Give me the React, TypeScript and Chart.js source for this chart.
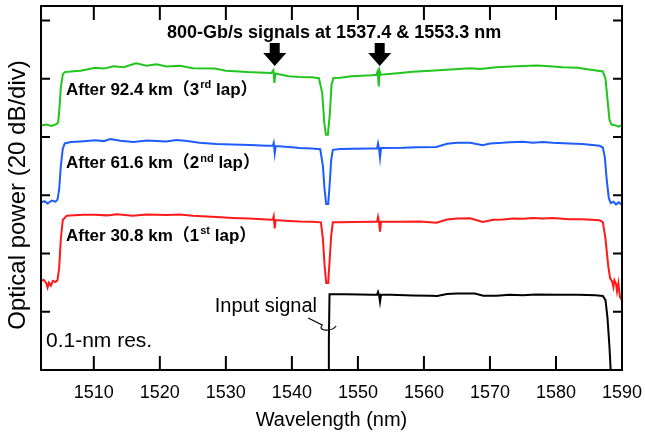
import { useEffect, useRef } from "react";
import { Chart, registerables } from "chart.js";

Chart.register(...registerables);

// ---------- data (wavelength in nm, power in dB, 20 dB per division) ----------
const WL_MIN = 1502;
const WL_MAX = 1590;
const P_MIN = 0;
const P_MAX = 125;
const P_STEP = 20;
const wlTicks = [1510, 1520, 1530, 1540, 1550, 1560, 1570, 1580, 1590];

const lap3Wl = [1502.0,1502.8,1503.6,1504.3,1504.6,1504.8,1505.0,1505.3,1505.6,1506.5,1508.0,1510.2,1511.5,1513.0,1514.5,1516.4,1518.0,1519.5,1521.0,1523.0,1525.0,1528.3,1530.0,1533.3,1535.0,1536.9,1537.2,1537.35,1537.5,1539.5,1541.2,1543.0,1544.1,1544.6,1544.9,1545.15,1545.45,1545.75,1546.0,1546.3,1547.3,1549.0,1552.1,1552.8,1553.0,1553.15,1553.3,1553.45,1556.4,1558.3,1561.0,1564.7,1567.0,1568.5,1571.0,1574.0,1577.1,1579.0,1581.0,1583.3,1585.0,1587.1,1587.5,1587.8,1588.1,1588.4,1589.0,1589.5,1590.0];
const lap3Pw = [84.0,84.3,83.8,84.4,85.0,90,97,101.5,102.3,102.5,102.8,103.8,103.5,104.3,104.0,105.3,104.5,105.0,104.2,104.5,103.6,103.5,102.8,102.3,102.2,102.0,103.0,98.6,101.8,100.9,100.6,100.5,100.2,95,85,80.8,80.8,88,98,100.3,100.4,100.9,101.2,101.4,102.6,97.4,102.6,101.4,102.0,102.4,102.8,103.3,103.6,103.4,104.0,104.3,104.6,104.3,104.0,103.8,103.2,102.5,100,93,86,84.3,84.0,83.6,84.2];

const lap2Wl = [1502.0,1502.5,1503.0,1503.6,1504.2,1504.5,1504.75,1505.0,1505.3,1505.6,1506.5,1508.0,1510.2,1511.5,1512.5,1514.0,1516.0,1518.0,1521.0,1522.5,1524.1,1526.0,1528.6,1531.0,1533.6,1536.2,1537.1,1537.25,1537.4,1537.55,1539.5,1541.2,1543.0,1544.3,1544.7,1544.95,1545.2,1545.5,1545.7,1545.95,1546.2,1547.3,1549.2,1552.1,1552.9,1553.05,1553.2,1553.35,1553.5,1556.8,1559.0,1561.9,1563.5,1565.0,1567.0,1568.9,1570.0,1571.9,1573.0,1575.0,1576.5,1578.0,1579.5,1582.0,1584.0,1586.6,1587.1,1587.4,1587.7,1588.0,1588.3,1588.7,1589.1,1589.5,1590.0];
const lap2Pw = [57.5,58.0,57.2,58.2,57.8,58.5,62,70,76,77.8,78.3,78.5,78.9,78.6,79.3,78.7,78.3,78.8,78.5,79.0,78.6,78.0,77.6,77.4,77.3,77.0,77.0,78.0,74.4,76.9,76.6,76.2,76.1,75.8,70,62,57.0,57.0,63,72,75.6,75.9,76.0,76.1,76.1,77.8,76.0,72.9,76.2,76.3,76.5,76.6,77.7,78.0,78.0,77.2,77.8,78.0,78.2,78.4,78.0,78.3,78.0,77.8,77.6,77.0,76.4,73,65,59,57.3,57.8,56.9,57.6,56.7];

const lap1Wl = [1502.0,1502.4,1502.8,1503.0,1503.2,1503.5,1503.8,1504.2,1504.5,1504.75,1505.0,1505.3,1505.9,1507.0,1508.5,1510.2,1512.0,1513.5,1515.9,1518.0,1521.0,1523.0,1525.0,1528.6,1531.0,1533.5,1536.2,1537.1,1537.25,1537.4,1537.55,1539.5,1541.2,1543.0,1544.4,1544.7,1544.95,1545.2,1545.5,1545.7,1545.95,1546.2,1547.3,1549.2,1552.1,1552.9,1553.05,1553.2,1553.35,1553.5,1556.4,1559.4,1561.9,1563.5,1565.0,1567.0,1568.9,1570.5,1572.0,1573.5,1575.0,1576.5,1578.0,1579.5,1582.0,1584.0,1586.6,1587.1,1587.5,1587.9,1588.2,1588.5,1588.7,1588.85,1589.1,1589.25,1589.45,1589.7,1590.0];
const lap1Pw = [30.5,31.0,29.8,28.3,30.0,29.0,30.6,30.2,30.8,35,45,51.5,53.0,53.1,53.3,53.3,53.1,53.5,53.0,53.4,53.2,53.4,53.0,52.5,52.2,52.0,51.7,51.6,52.8,48.6,51.5,51.2,51.0,50.9,50.7,45,36,29.9,29.9,37,46,50.7,50.7,50.8,50.9,50.9,52.6,50.9,47.5,50.9,50.9,51.0,50.6,51.7,52.0,52.1,50.8,51.6,51.7,52.0,51.9,52.2,52.0,52.2,51.8,51.8,51.4,50.8,45,36,31.5,30.5,28.5,30.8,29.5,27.0,29.8,25.0,24.0];

const inputWl = [1545.55,1545.6,1545.7,1546.0,1548.0,1550.3,1552.1,1552.9,1553.05,1553.2,1553.35,1553.5,1555.0,1558.3,1561.0,1562.0,1563.5,1565.0,1567.7,1569.0,1571.0,1573.0,1575.0,1577.0,1580.0,1583.3,1586.0,1587.1,1587.5,1587.8,1588.1,1588.4];
const inputPw = [-5,10,26.0,26.0,26.0,25.9,25.8,25.8,26.8,25.8,23.4,25.8,25.8,25.6,25.5,25.4,26.1,26.3,26.3,25.5,25.5,25.8,25.7,25.9,25.8,25.8,25.7,25.4,24,18,8,-5];

const signalWavelengths = [1537.4, 1553.3];

const titleText = "800-Gb/s signals at 1537.4 & 1553.3 nm";
const lapLabelPre = ["After 92.4 km\uFF083", "After 61.6 km\uFF082", "After 30.8 km\uFF081"];
const lapLabelSup = ["rd", "nd", "st"];
const lapLabelPost = [" lap\uFF09", " lap\uFF09", " lap\uFF09"];
const inputLabel = "Input signal";
const resLabel = "0.1-nm res.";
const xTitle = "Wavelength (nm)";
const yTitle = "Optical power (20 dB/div)";

// ---------- styles ----------
const GREEN = "#22c41e";
const BLUE = "#1f5cff";
const RED = "#ff1a1a";
const BLACK = "#000000";
const BASE = "'Liberation Sans', Arial, sans-serif";
const MIX = "'Liberation Sans', 'Noto Sans CJK JP', sans-serif";

const toPoints = (xs: number[], ys: number[]) => xs.map((x, i) => ({ x, y: ys[i] }));

function drawSupLabel(ctx: CanvasRenderingContext2D, x: number, y: number, pre: string, sup: string, post: string, size: number) {
  ctx.textAlign = "left";
  ctx.textBaseline = "middle";
  ctx.font = `bold ${size}px ${MIX}`;
  ctx.fillText(pre, x, y);
  let cx = x + ctx.measureText(pre).width;
  const ss = Math.round(size * 0.62);
  ctx.font = `bold ${ss}px ${MIX}`;
  ctx.fillText(sup, cx + 1, y - size * 0.28);
  cx += ctx.measureText(sup).width + 1;
  ctx.font = `bold ${size}px ${MIX}`;
  ctx.fillText(post, cx, y);
}

const overlayPlugin = {
  id: "overlay",
  afterDatasetsDraw(chart: any) {
    const { ctx, chartArea: a, scales } = chart;
    const xs = scales.x;
    const ys = scales.y;
    ctx.save();
    ctx.strokeStyle = "#000";
    ctx.lineWidth = 2;
    ctx.strokeRect(a.left, a.top, a.right - a.left, a.bottom - a.top);

    ctx.beginPath();
    for (const t of xs.ticks) {
      const px = xs.getPixelForValue(t.value);
      if (px < a.left + 2 || px > a.right - 2) continue;
      ctx.moveTo(px, a.bottom);
      ctx.lineTo(px, a.bottom - 14);
      ctx.moveTo(px, a.top);
      ctx.lineTo(px, a.top + 14);
    }
    for (const t of ys.ticks) {
      const py = ys.getPixelForValue(t.value);
      if (py > a.bottom - 2 || py < a.top + 2) continue;
      ctx.moveTo(a.left, py);
      ctx.lineTo(a.left + 9, py);
      ctx.moveTo(a.right, py);
      ctx.lineTo(a.right - 9, py);
    }
    ctx.stroke();

    // arrows pointing at the signals
    ctx.fillStyle = "#000";
    for (const w of signalWavelengths) {
      const cx = xs.getPixelForValue(w);
      const top = a.top + 37, neck = a.top + 47, tip = a.top + 60;
      ctx.beginPath();
      ctx.moveTo(cx - 5, top);
      ctx.lineTo(cx + 5, top);
      ctx.lineTo(cx + 5, neck);
      ctx.lineTo(cx + 11.5, neck);
      ctx.lineTo(cx, tip);
      ctx.lineTo(cx - 11.5, neck);
      ctx.lineTo(cx - 5, neck);
      ctx.closePath();
      ctx.fill();
    }

    // title
    ctx.textAlign = "center";
    ctx.textBaseline = "middle";
    ctx.font = `bold 18px ${BASE}`;
    ctx.fillText(titleText, xs.getPixelForValue(1546.4), 33);

    // y-axis title
    ctx.save();
    ctx.translate(18, 195);
    ctx.rotate(-Math.PI / 2);
    ctx.font = `24px ${BASE}`;
    ctx.textAlign = "center";
    ctx.textBaseline = "middle";
    ctx.fillText(yTitle, 0, 0);
    ctx.restore();

    // lap labels
    const labelY = [90, 163.5, 236];
    for (let i = 0; i < lapLabelPre.length; i++) {
      drawSupLabel(ctx, a.left + 25, labelY[i], lapLabelPre[i], lapLabelSup[i], lapLabelPost[i], 17);
    }

    // input signal label + leader
    ctx.font = `20px ${BASE}`;
    ctx.textAlign = "right";
    ctx.textBaseline = "middle";
    ctx.fillText(inputLabel, 317, 306);
    const bx = xs.getPixelForValue(1545.65);
    ctx.lineWidth = 1.2;
    ctx.beginPath();
    ctx.moveTo(bx - 21, 318);
    ctx.lineTo(bx - 7, 325);
    ctx.quadraticCurveTo(bx - 10, 329, bx - 5, 330);
    ctx.quadraticCurveTo(bx + 3, 331, bx + 7, 326);
    ctx.stroke();

    // resolution label
    ctx.textAlign = "left";
    ctx.font = `21px ${BASE}`;
    ctx.fillText(resLabel, a.left + 5, 341);
    ctx.restore();
  },
};

export default function App() {
  const ref = useRef<HTMLCanvasElement>(null);
  useEffect(() => {
    const mk = (label: string, xs: number[], ys: number[], color: string) => ({
      label,
      data: toPoints(xs, ys),
      borderColor: color,
      backgroundColor: color,
      borderWidth: 2,
      pointRadius: 0,
      tension: 0,
      fill: false,
    });
    const chart = new Chart(ref.current as HTMLCanvasElement, {
      type: "line",
      data: {
        datasets: [
          mk("3rd lap", lap3Wl, lap3Pw, GREEN),
          mk("2nd lap", lap2Wl, lap2Pw, BLUE),
          mk("1st lap", lap1Wl, lap1Pw, RED),
          mk("Input", inputWl, inputPw, BLACK),
        ],
      },
      options: {
        animation: false,
        responsive: false,
        devicePixelRatio: 1,
        layout: { padding: { top: 6, right: 23, left: 0, bottom: 0 } },
        plugins: { legend: { display: false }, tooltip: { enabled: false } },
        scales: {
          x: {
            type: "linear",
            min: WL_MIN,
            max: WL_MAX,
            ticks: {
              color: "#000",
              font: { family: BASE, size: 18 },
              padding: 12,
              maxRotation: 0,
              autoSkip: false,
              callback: (v: any) => String(v),
            },
            grid: { display: false, drawTicks: false },
            border: { display: false },
            title: { display: true, text: xTitle, color: "#000", font: { family: BASE, size: 20 }, padding: { top: 0, bottom: 4 } },
            afterBuildTicks: (s: any) => {
              s.ticks = wlTicks.map((value) => ({ value }));
            },
            afterFit: (s: any) => {
              s.height = 66;
              s.paddingLeft = 0;
              s.paddingRight = 0;
            },
          },
          y: {
            type: "linear",
            min: P_MIN,
            max: P_MAX,
            ticks: { stepSize: P_STEP, display: false },
            grid: { display: false, drawTicks: false },
            border: { display: false },
            title: { display: false },
            afterFit: (s: any) => {
              s.width = 41;
              s.paddingTop = 0;
              s.paddingBottom = 0;
            },
          },
        },
      } as any,
      plugins: [overlayPlugin],
    });
    return () => chart.destroy();
  }, []);
  return (
    <div style={{ position: "absolute", left: 0, top: 0, width: 645, height: 436, background: "#fff" }}>
      <canvas ref={ref} width={645} height={436} />
    </div>
  );
}
